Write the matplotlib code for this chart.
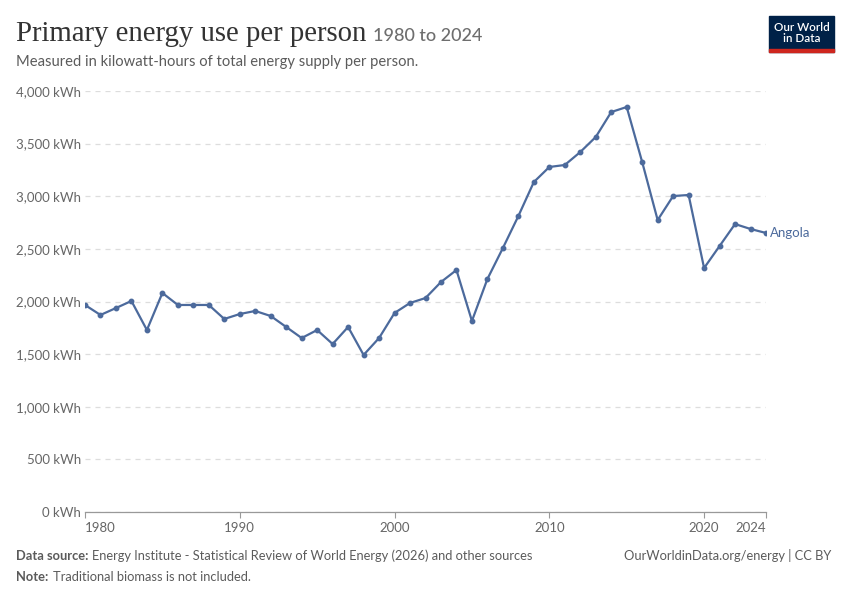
import matplotlib
matplotlib.use("Agg")
import matplotlib.pyplot as plt
from matplotlib.patches import Rectangle

years = list(range(1980, 2025))
values = [1967, 1872, 1938, 2005, 1729, 2081, 1967, 1967, 1967, 1834,
          1881, 1910, 1862, 1758, 1653, 1729, 1596, 1758, 1492, 1653,
          1891, 1986, 2033, 2185, 2299, 1815, 2214, 2508, 2812, 3135,
          3278, 3297, 3420, 3563, 3800, 3848, 3325, 2774, 3002, 3012,
          2318, 2527, 2736, 2689, 2651]
y_ticks = [0, 500, 1000, 1500, 2000, 2500, 3000, 3500, 4000]
y_labels = ["0 kWh", "500 kWh", "1,000 kWh", "1,500 kWh", "2,000 kWh",
            "2,500 kWh", "3,000 kWh", "3,500 kWh", "4,000 kWh"]
x_ticks = [1980, 1990, 2000, 2010, 2020, 2024]
country = "Angola"

BODY = ["Lato", "DejaVu Sans"]
LINE = "#4c6a9c"
GRAY = "#666666"

fig = plt.figure(figsize=(8.5, 6), dpi=100)
ax = fig.add_axes([85 / 850, 1 - 512 / 600, (766 - 85) / 850, (512 - 91) / 600])

ax.plot(years, values, color=LINE, lw=1.6, marker="o", ms=3.2, zorder=3)
ax.set_xlim(1980, 2024)
ax.set_ylim(0, 4000)

ax.set_yticks(y_ticks)
ax.set_yticklabels(y_labels, family=BODY, fontsize=9.5, color=GRAY)
ax.tick_params(axis="y", length=0, pad=3)
ax.grid(axis="y", color="#dddddd", ls=(0, (4, 4)), lw=0.9)
ax.set_axisbelow(True)

ax.set_xticks(x_ticks)
ax.set_xticklabels([str(t) for t in x_ticks], family=BODY, fontsize=9.5, color=GRAY)
ax.tick_params(axis="x", length=4, color="#999999", pad=3)
lbls = ax.get_xticklabels()
lbls[0].set_ha("left")
lbls[-1].set_ha("right")

for s in ["top", "right", "left"]:
    ax.spines[s].set_visible(False)
ax.spines["bottom"].set_color("#999999")
ax.spines["bottom"].set_linewidth(0.9)

ax.text(years[-1] + 0.25, values[-1], country, color=LINE, family=BODY,
        fontsize=9.5, va="center", ha="left", clip_on=False)

# Header
fig.text(16 / 850, 1 - 41 / 600, "Primary energy use per person", family=["Liberation Serif", "DejaVu Serif"],
         fontsize=20.7, color="#333333", va="baseline", ha="left")
fig.text(373 / 850, 1 - 41 / 600, "1980 to 2024", family=BODY, fontsize=13,
         color="#6e6e6e", va="baseline", ha="left", weight="medium")
fig.text(16 / 850, 1 - 66 / 600, "Measured in kilowatt-hours of total energy supply per person.",
         family=BODY, fontsize=10.6, color="#5b5b5b", va="baseline", ha="left")

# Logo
fig.patches.append(Rectangle((769 / 850, 1 - 52 / 600), 65 / 850, 36 / 600,
                             transform=fig.transFigure, color="#002147", zorder=5))
fig.patches.append(Rectangle((769 / 850, 1 - 52 / 600), 65 / 850, 3 / 600,
                             transform=fig.transFigure, color="#ce261e", zorder=6))
fig.text(801.5 / 850, 1 - 33 / 600, "Our World\nin Data", family=BODY, fontsize=8.4,
         color="white", ha="center", va="center", linespacing=1.0, zorder=7, weight="semibold")

# Footer
FS = 9.3
fig.text(16 / 850, 1 - 560 / 600, "Data source:", family=BODY, fontsize=FS, color="#5b5b5b",
         weight="bold", va="baseline", ha="left")
fig.text(92 / 850, 1 - 560 / 600,
         "Energy Institute - Statistical Review of World Energy (2026) and other sources",
         family=BODY, fontsize=FS, color="#5b5b5b", va="baseline", ha="left")
fig.text(16 / 850, 1 - 581 / 600, "Note:", family=BODY, fontsize=FS, color="#5b5b5b",
         weight="bold", va="baseline", ha="left")
fig.text(53 / 850, 1 - 581 / 600, "Traditional biomass is not included.",
         family=BODY, fontsize=FS, color="#5b5b5b", va="baseline", ha="left")
fig.text(831 / 850, 1 - 560 / 600, "OurWorldinData.org/energy | CC BY", family=BODY,
         fontsize=FS, color="#5b5b5b", va="baseline", ha="right")

fig.savefig("out.png", dpi=100)
